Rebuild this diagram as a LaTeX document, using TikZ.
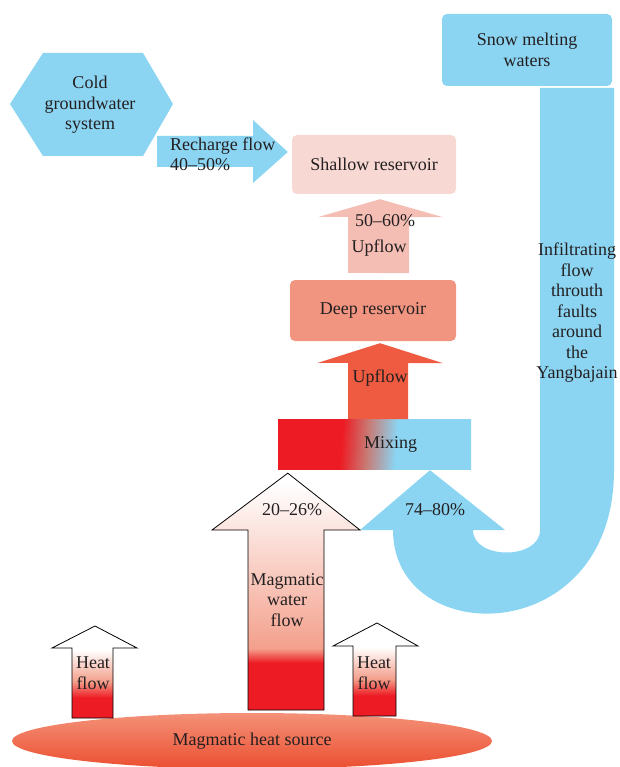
\documentclass[tikz,border=0pt]{standalone}
\usepackage{fontspec}
\setmainfont{Liberation Serif}
\usepackage{xcolor}
\usetikzlibrary{calc}
\usetikzlibrary{shapes.geometric}

\definecolor{skyblue}{RGB}{139,213,243}
\definecolor{shallowpink}{RGB}{247,216,211}
\definecolor{uplight}{RGB}{245,190,180}
\definecolor{deepsalmon}{RGB}{241,149,129}
\definecolor{updark}{RGB}{238,91,64}
\definecolor{magred}{RGB}{237,28,36}
\definecolor{flowsalmon}{RGB}{243,160,140}
\definecolor{mixbrown}{RGB}{200,122,116}
\definecolor{inkdark}{RGB}{35,31,32}
\definecolor{sourcetop}{RGB}{243,145,120}
\definecolor{sourcemid}{RGB}{237,92,64}
\definecolor{sourcebot}{RGB}{236,78,48}

\pgfdeclareverticalshading{watershade}{100bp}{color(0bp)=(magred); color(35bp)=(magred); color(38bp)=(flowsalmon); color(73bp)=(white); color(100bp)=(white)}
\pgfdeclareverticalshading{heatshade}{100bp}{color(0bp)=(magred); color(36bp)=(magred); color(45bp)=(flowsalmon); color(62bp)=(white); color(100bp)=(white)}
\pgfdeclarehorizontalshading{mixshade}{100bp}{color(0bp)=(magred); color(41bp)=(magred); color(48bp)=(mixbrown); color(56bp)=(skyblue); color(100bp)=(skyblue)}

\tikzset{
	resbox/.style={rounded corners=5pt, inner sep=0pt, align=center},
	flowtext/.style={align=center, inner sep=0pt},
	outlined/.style={draw=black, line width=0.8pt}
}

\begin{document}
\begin{tikzpicture}[x=1pt, y=-1pt, font=\fontsize{18pt}{20.5pt}\selectfont, text=inkdark]
	\useasboundingbox (0,0) rectangle (619,767);
	% boxes
	\node[resbox, fill=shallowpink, minimum width=164pt, minimum height=59pt] (shallow) at (374,164.5) {Shallow reservoir};
	\node[resbox, fill=deepsalmon, minimum width=166pt, minimum height=61pt] (deep) at (373,310.5) {Deep reservoir};
	\node[resbox, fill=skyblue, minimum width=170pt, minimum height=72pt] (snow) at (527,50) {Snow melting\\waters};
	\node[shade, shading=mixshade, shading angle=-4, minimum width=193pt, minimum height=50pt, inner sep=0pt] (mixing) at (374.5,444) {};
	\node[flowtext] (mixlabel) at ([xshift=16pt]mixing.center) {Mixing};
	\node[ellipse, top color=sourcetop, middle color=sourcemid, bottom color=sourcebot, minimum width=480pt, minimum height=56pt, inner sep=0pt] (source) at (252,741) {Magmatic heat source};

	% cold groundwater
	\fill[skyblue] (10,104) -- (43,53) -- (143,53) -- (173,104) -- (143,156) -- (43,156) -- cycle;
	\node[flowtext] (cold) at (90,105) {Cold\\groundwater\\system};
	\fill[skyblue] (157,136) -- (253,136) -- (253,120) -- ($(shallow.west)+(-4,-12.5)$) -- (253,183) -- (253,167) -- (157,167) -- cycle;
	\node[flowtext, anchor=west, align=left] (recharge) at (170,154.5) {Recharge flow\\40--50\%};

	% upflows
	\fill[uplight] ($(deep.north)+(-25,-7)$) -- ++(0,-56) -- ++(-29,0) -- ($(shallow.south)+(6,5)$) -- ++(63,18) -- ++(-34,0) -- ++(0,56) -- cycle;
	\node[flowtext] (upshallow) at (385,221) {50--60\%};
	\node[flowtext] (uplabel) at (379,248) {Upflow};
	\fill[updark] ($(mixing.north)+(-26.5,0)$) -- ++(0,-56) -- ++(-30,0) -- ($(deep.south)+(7,2)$) -- ++(63,20) -- ++(-35,0) -- ++(0,56) -- cycle;
	\node[flowtext] (updeep) at (380,378) {Upflow};

	% snow melting water
	\fill[skyblue] (540,88) -- (614,88) -- (614,470) .. controls (614,650) and (393,650) .. (393,530) -- (360,530) -- ($(mixing.south)+(55.5,1)$) -- (505,530) -- (473,530) .. controls (473,560) and (540,560) .. (540,530) -- cycle;
	\node[flowtext] (infiltr) at (577,313) {Infiltrating\\flow\\throuth\\faults\\around\\the\\Yangbajain};
	\node[flowtext] (coldpart) at (435,510) {74--80\%};

	% magmatic water and heat
	\shadedraw[shading=watershade, outlined] (248,710) -- (248,530) -- (212,530) -- ($(mixing.south west)+(10,4)$) -- (360,530) -- (324,530) -- (324,710) -- cycle;
	\node[flowtext] (hotpart) at (292,510) {20--26\%};
	\node[flowtext] (magwater) at (287,600) {Magmatic\\water\\flow};
	\shadedraw[shading=heatshade, outlined] (72,718) -- (72,648) -- (52,648) -- (95,626) -- (137,648) -- (113,648) -- (113,718) -- cycle;
	\node[flowtext] (heatleft) at (93,673) {Heat\\flow};
	\shadedraw[shading=heatshade, outlined] (353,716) -- (353,646) -- (333,646) -- (377,623) -- (418,646) -- (396,646) -- (396,716) -- cycle;
	\node[flowtext] (heatright) at (374,673) {Heat\\flow};
\end{tikzpicture}
\end{document}
